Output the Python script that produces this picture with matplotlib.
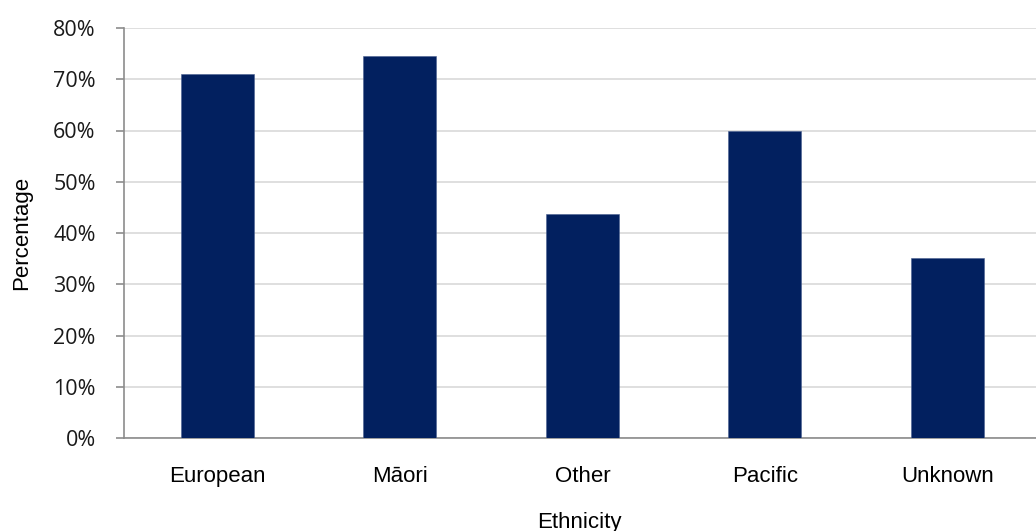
import matplotlib
matplotlib.use('Agg')

import numpy as np
import matplotlib.pyplot as plt
from matplotlib.ticker import PercentFormatter

# 数据
categories = ['European', 'Māori', 'Other', 'Pacific', 'Unknown']
values = [71.0, 74.6, 43.7, 59.9, 35.2]
y_ticks = [0, 10, 20, 30, 40, 50, 60, 70, 80]

fig = plt.figure(figsize=(10.36, 5.31), dpi=100)
ax = fig.add_axes([123.5 / 1036, 93 / 531, 1 - 123.5 / 1036, 410 / 531])

x = np.arange(len(categories))
ax.bar(x, values, width=0.4, color='#02205f', edgecolor='#4a6090', linewidth=0.4, zorder=3)

ax.set_xlim(-0.515, len(categories) - 0.515)
ax.set_ylim(0, 80)
ax.set_yticks(y_ticks)
ax.yaxis.set_major_formatter(PercentFormatter(decimals=0))
ax.grid(axis='y', color='#d9d9d9', linewidth=1.2, zorder=0)

for s in ['top', 'right']:
    ax.spines[s].set_visible(False)
for s in ['left', 'bottom']:
    ax.spines[s].set_color('#8c8c8c')
    ax.spines[s].set_linewidth(1.2)

ax.tick_params(axis='y', length=6, width=1.2, color='#8c8c8c', pad=14,
               labelsize=15.5, labelfontfamily='Open Sans', labelcolor='#1a1a1a')
ax.tick_params(axis='x', length=0, pad=20, labelsize=16,
               labelfontfamily='Liberation Sans')
ax.set_xticks(x)
ax.set_xticklabels(categories)

ax.set_xlabel('Ethnicity', fontfamily='Liberation Sans', fontsize=16)
ax.set_ylabel('Percentage', fontfamily='Liberation Sans', fontsize=16)
ax.xaxis.set_label_coords(0.5, -0.18)
ax.yaxis.set_label_coords(-0.1, 0.5)

fig.savefig('out.png', dpi=100)
